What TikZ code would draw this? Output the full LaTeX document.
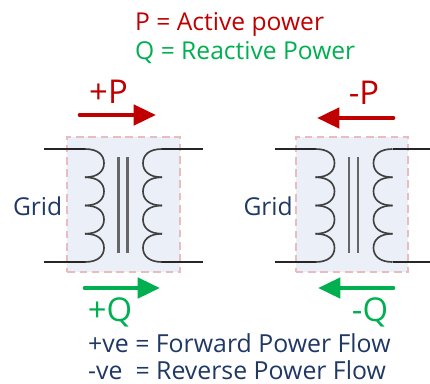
\documentclass[tikz,border=0pt]{standalone}
\usepackage{fontspec}
\setmainfont{Open Sans}
\usepackage{tikz}
\usetikzlibrary{arrows.meta}
\definecolor{powerred}{HTML}{C00000}
\definecolor{powergreen}{HTML}{00B050}
\definecolor{labelblue}{HTML}{1F3864}
\definecolor{boxfill}{HTML}{EAEFF8}
\definecolor{boxedge}{HTML}{E8BDBF}
\tikzset{
    flow/.style={line width=4pt, line cap=round, -{Triangle[length=19pt,width=17pt]}},
    lead/.style={line width=1.3pt, draw=black!85},
    winding/.style={line width=1.4pt, draw=black!75},
    core/.style={line width=2.2pt, draw=black!60},
    corebox/.style={draw=boxedge, fill=boxfill, line width=1.7pt, dash pattern=on 6.5pt off 4pt, minimum width=96pt, minimum height=116pt, inner sep=0pt},
    big/.style={font=\fontsize{28}{30}\selectfont, inner sep=0pt},
    mid/.style={font=\fontsize{21}{24}\selectfont, inner sep=0pt},
    small/.style={font=\fontsize{21.2}{24}\selectfont, text=labelblue, inner sep=0pt},
}
\newcommand{\coil}[2]{
    \foreach \y in {149,177.25,205.5,233.75}{
        \draw[winding] (#1,\y) .. controls ({#1+13*#2},\y) and ({#1+19*#2},{\y+6}) .. ({#1+19*#2},{\y+14.1})
            .. controls ({#1+19*#2},{\y+22}) and ({#1+13*#2},{\y+28.25}) .. (#1,{\y+28.25});
    }
}
\begin{document}
\begin{tikzpicture}[x=0.03cm,y=-0.03cm]
    \useasboundingbox (0,0) rectangle (430,383);

    \node[mid, text=powerred, anchor=west] (active) at (135,24) {P = Active power};
    \node[mid, text=powergreen, anchor=west] (reactive) at (135,53) {Q = Reactive Power};

    % both transformers
    \foreach \n/\s/\b in {l/0/123.5,r/230.5/121.5}{
        \begin{scope}[xshift=\s*0.03cm]
            \node[corebox] (box\n) at (\b,204.5) {};
            \coordinate (tl\n) at (44,149);
            \coordinate (tr\n) at (203,149);
            \coordinate (bl\n) at (44,262);
            \coordinate (br\n) at (203,262);
            \coordinate (ca\n) at (85,149);
            \coordinate (cb\n) at (85,262);
            \coordinate (cc\n) at (162,149);
            \coordinate (cd\n) at (162,262);
            \coordinate (ia\n) at (118.5,157);
            \coordinate (ib\n) at (118.5,253);
            \coordinate (ic\n) at (127.5,157);
            \coordinate (id\n) at (127.5,253);
            \draw[lead] (tl\n) -- (ca\n);
            \draw[lead] (bl\n) -- (cb\n);
            \draw[lead] (cc\n) -- (tr\n);
            \draw[lead] (cd\n) -- (br\n);
            \draw[core] (ia\n) -- (ib\n);
            \draw[core] (ic\n) -- (id\n);
            \coil{85}{1}
            \coil{162}{-1}
            \node[mid, text=labelblue, anchor=east] (grid\n) at (62.5,206) {Grid};
        \end{scope}
    }

    \coordinate (p1) at (80,115);
    \coordinate (p2) at (156,115);
    \coordinate (p3) at (393,118);
    \coordinate (p4) at (317,118);
    \coordinate (q1) at (85,288);
    \coordinate (q2) at (160,288);
    \coordinate (q3) at (393,288);
    \coordinate (q4) at (318,288);

    \draw[flow, powerred] (p1) -- (p2);
    \draw[flow, powerred] (p3) -- (p4);
    \draw[flow, powergreen] (q1) -- (q2);
    \draw[flow, powergreen] (q3) -- (q4);

    \node[big, text=powerred] (plusp) at (108.5,92) {+P};
    \node[big, text=powerred] (minusp) at (364,93) {-P};
    \node[big, text=powergreen] (plusq) at (110,312) {+Q};
    \node[big, text=powergreen] (minusq) at (370,312) {-Q};

    \node[small, anchor=west] (forward) at (88,343) {+ve = Forward Power Flow};
    \node[small, anchor=west] (reverse) at (88,370) {-ve \ = Reverse Power Flow};
\end{tikzpicture}
\end{document}
